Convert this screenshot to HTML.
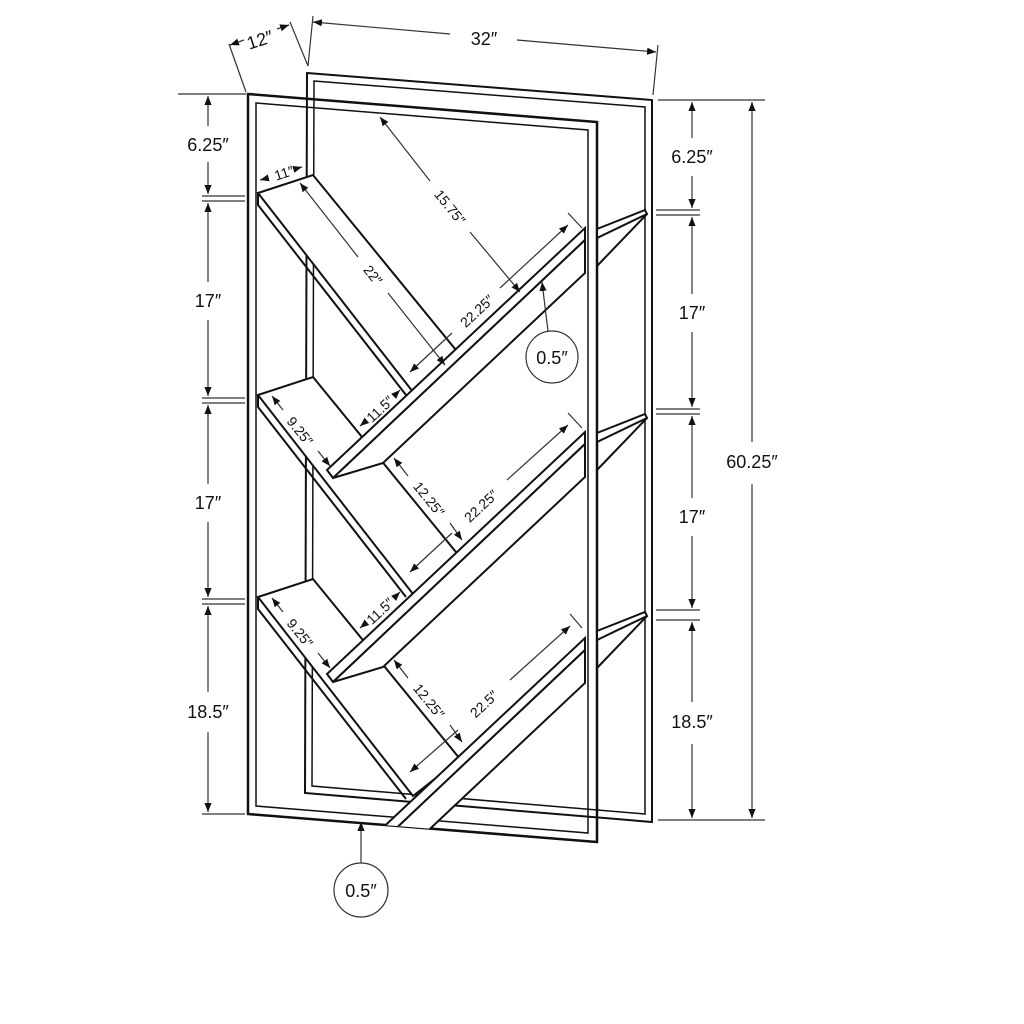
<!DOCTYPE html>
<html><head><meta charset="utf-8"><style>
html,body{margin:0;padding:0;background:#fff;}
svg{display:block}
text{font-family:"Liberation Sans",sans-serif;fill:#111;}
</style></head><body>
<svg width="1024" height="1024" viewBox="0 0 1024 1024" xmlns="http://www.w3.org/2000/svg">
<defs>
<marker id="a" viewBox="0 0 10 10" refX="10" refY="5" markerWidth="9" markerHeight="9" orient="auto-start-reverse" markerUnits="userSpaceOnUse"><path d="M0,1 L10,5 L0,9 z" fill="#111"/></marker>
<clipPath id="fr"><polygon points="248,94 595,122 595,842 248,814"/></clipPath>
</defs>
<g fill="none" stroke="#111" stroke-width="2">
<polygon points="307,73 652,100 652,822 305,793"/>
<polygon points="314,81 645,107 645,814 312,786" stroke-width="1.5"/>
<polygon points="248,94 597,122 597,842 248,814" stroke-width="2.5"/>
<polygon points="256,103 588,130 588,833 256,806" stroke-width="1.5"/>
</g>
<g fill="#fff" stroke="#111" stroke-width="2" clip-path="url(#fr)">
<g id="L">
<polygon points="258,193 313,175 460,355 413,392"/>
<polyline points="258,193 258,205 406,395" fill="none"/>
</g>
<use href="#L" transform="translate(0,202)"/>
<use href="#L" transform="translate(0,404)"/>
<g id="R">
<polygon points="327,470 585,228 585,240 333,478"/>
<polygon points="333,478 383,463 585,273 585,240"/>
</g>
<use href="#R" transform="translate(0,204)"/>
<use href="#R" transform="translate(0,410)"/>
</g>
<g fill="#fff" stroke="#111" stroke-width="2">
<g id="E"><polygon points="597,229 645,210 647,214 597,238"/><polyline points="597,266 647,214" fill="none"/></g>
<use href="#E" transform="translate(0,204)"/>
<use href="#E" transform="translate(0,402)"/>
</g>
<g stroke="#333" stroke-width="1.2" fill="none">
<line x1="178" y1="94" x2="246" y2="94"/>
<line x1="202" y1="196" x2="245" y2="196"/><line x1="202" y1="201" x2="245" y2="201"/>
<line x1="202" y1="398" x2="245" y2="398"/><line x1="202" y1="403" x2="245" y2="403"/>
<line x1="202" y1="599" x2="245" y2="599"/><line x1="202" y1="604" x2="245" y2="604"/>
<line x1="202" y1="814" x2="245" y2="814"/>
<line x1="208" y1="96" x2="208" y2="126" marker-start="url(#a)"/><line x1="208" y1="162" x2="208" y2="194" marker-end="url(#a)"/>
<line x1="208" y1="203" x2="208" y2="282" marker-start="url(#a)"/><line x1="208" y1="320" x2="208" y2="396" marker-end="url(#a)"/>
<line x1="208" y1="405" x2="208" y2="484" marker-start="url(#a)"/><line x1="208" y1="522" x2="208" y2="597" marker-end="url(#a)"/>
<line x1="208" y1="606" x2="208" y2="692" marker-start="url(#a)"/><line x1="208" y1="732" x2="208" y2="812" marker-end="url(#a)"/>
<line x1="658" y1="100" x2="765" y2="100"/>
<line x1="656" y1="210" x2="700" y2="210"/><line x1="656" y1="215" x2="700" y2="215"/>
<line x1="656" y1="409" x2="700" y2="409"/><line x1="656" y1="414" x2="700" y2="414"/>
<line x1="656" y1="610" x2="700" y2="610"/><line x1="656" y1="620" x2="700" y2="620"/>
<line x1="658" y1="820" x2="765" y2="820"/>
<line x1="692" y1="102" x2="692" y2="138" marker-start="url(#a)"/><line x1="692" y1="176" x2="692" y2="208" marker-end="url(#a)"/>
<line x1="692" y1="217" x2="692" y2="294" marker-start="url(#a)"/><line x1="692" y1="332" x2="692" y2="407" marker-end="url(#a)"/>
<line x1="692" y1="416" x2="692" y2="498" marker-start="url(#a)"/><line x1="692" y1="536" x2="692" y2="608" marker-end="url(#a)"/>
<line x1="692" y1="622" x2="692" y2="702" marker-start="url(#a)"/><line x1="692" y1="744" x2="692" y2="818" marker-end="url(#a)"/>
<line x1="752" y1="102" x2="752" y2="442" marker-start="url(#a)"/><line x1="752" y1="484" x2="752" y2="818" marker-end="url(#a)"/>
<line x1="246" y1="92" x2="229" y2="44"/><line x1="308" y1="66" x2="290" y2="22"/><line x1="308" y1="66" x2="313" y2="16"/><line x1="653" y1="95" x2="658" y2="45"/>
<line x1="230" y1="45" x2="244" y2="40" marker-start="url(#a)"/><line x1="277" y1="29" x2="289" y2="25" marker-end="url(#a)"/>
<line x1="313" y1="22" x2="450" y2="34" marker-start="url(#a)"/><line x1="517" y1="40" x2="656" y2="52" marker-end="url(#a)"/>
<line x1="260" y1="180" x2="268" y2="178" marker-start="url(#a)"/><line x1="295" y1="169" x2="302" y2="167" marker-end="url(#a)"/>
<line x1="380" y1="117" x2="430" y2="181" marker-start="url(#a)"/><line x1="470" y1="232" x2="520" y2="292" marker-end="url(#a)"/>
<line x1="300" y1="183" x2="358" y2="257" marker-start="url(#a)"/><line x1="388" y1="293" x2="445" y2="365" marker-end="url(#a)"/>
<line x1="410" y1="372" x2="452" y2="333" marker-start="url(#a)"/><line x1="500" y1="288" x2="568" y2="225" marker-end="url(#a)"/>
<line x1="568" y1="213" x2="582" y2="228"/>
<line x1="360" y1="426" x2="366" y2="421" marker-start="url(#a)"/><line x1="394" y1="396" x2="400" y2="390" marker-end="url(#a)"/>
<line x1="272" y1="396" x2="283" y2="410" marker-start="url(#a)"/><line x1="318" y1="451" x2="330" y2="466" marker-end="url(#a)"/>
<line x1="394" y1="458" x2="408" y2="476" marker-start="url(#a)"/><line x1="450" y1="523" x2="462" y2="540" marker-end="url(#a)"/>
<line x1="410" y1="572" x2="452" y2="533" marker-start="url(#a)"/><line x1="507" y1="480" x2="568" y2="425" marker-end="url(#a)"/>
<line x1="568" y1="413" x2="582" y2="428"/>
<line x1="360" y1="628" x2="366" y2="623" marker-start="url(#a)"/><line x1="394" y1="598" x2="400" y2="592" marker-end="url(#a)"/>
<line x1="272" y1="598" x2="283" y2="612" marker-start="url(#a)"/><line x1="318" y1="653" x2="330" y2="668" marker-end="url(#a)"/>
<line x1="394" y1="660" x2="408" y2="678" marker-start="url(#a)"/><line x1="450" y1="725" x2="462" y2="742" marker-end="url(#a)"/>
<line x1="410" y1="772" x2="458" y2="730" marker-start="url(#a)"/><line x1="510" y1="680" x2="570" y2="626" marker-end="url(#a)"/>
<line x1="570" y1="614" x2="582" y2="628"/>
<circle cx="552" cy="357" r="26"/>
<line x1="548" y1="331" x2="542" y2="282" marker-end="url(#a)"/>
<circle cx="361" cy="890" r="27"/>
<line x1="361" y1="863" x2="361" y2="822" marker-end="url(#a)"/>
</g>
<g font-size="18" text-anchor="middle">
<text x="208" y="151">6.25″</text>
<text x="208" y="307">17″</text>
<text x="208" y="509">17″</text>
<text x="208" y="718">18.5″</text>
<text x="692" y="163">6.25″</text>
<text x="692" y="319">17″</text>
<text x="692" y="523">17″</text>
<text x="692" y="728">18.5″</text>
<text x="752" y="468">60.25″</text>
<text x="484" y="45">32″</text>
<text x="260" y="46" transform="rotate(-18 260 40)">12″</text>
<text x="552" y="364">0.5″</text>
<text x="361" y="897">0.5″</text>
</g>
<g font-size="14" text-anchor="middle">
<text x="284" y="178" transform="rotate(-18 284 173)">11″</text>
<text x="450" y="212" transform="rotate(51 450 207)">15.75″</text>
<text x="373" y="280" transform="rotate(51 373 275)">22″</text>
<text x="477" y="316" transform="rotate(-43 477 311)">22.25″</text>
<text x="380" y="414" transform="rotate(-43 380 409)">11.5″</text>
<text x="300" y="436" transform="rotate(51 300 431)">9.25″</text>
<text x="429" y="504" transform="rotate(51 429 499)">12.25″</text>
<text x="481" y="511" transform="rotate(-43 481 506)">22.25″</text>
<text x="380" y="616" transform="rotate(-43 380 611)">11.5″</text>
<text x="300" y="638" transform="rotate(51 300 633)">9.25″</text>
<text x="429" y="706" transform="rotate(51 429 701)">12.25″</text>
<text x="484" y="709" transform="rotate(-43 484 704)">22.5″</text>
</g>
</svg>
</body></html>
